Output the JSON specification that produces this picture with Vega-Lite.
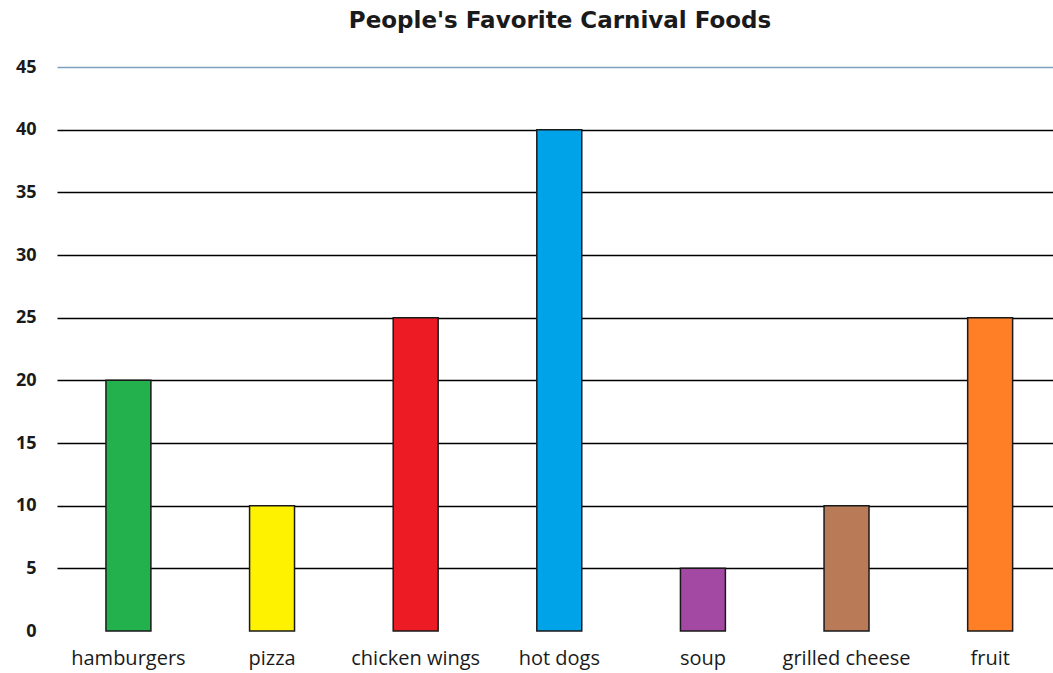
{
  "$schema": "https://vega.github.io/schema/vega-lite/v6.json",
  "autosize": {"type": "none"},
  "width": 996,
  "height": 564,
  "padding": {"left": 57, "top": 67, "right": 0, "bottom": 42},
  "background": "white",
  "title": {
    "text": "People's Favorite Carnival Foods",
    "font": "DejaVu Sans",
    "fontSize": 23,
    "fontWeight": "bold",
    "color": "#1a1a1a",
    "baseline": "alphabetic",
    "offset": 7,
    "dx": 5,
    "anchor": "middle"
  },
  "config": {"view": {"stroke": null}},
  "data": {
    "values": [
      {"food": "hamburgers", "count": 20, "color": "#22B14C"},
      {"food": "pizza", "count": 10, "color": "#FFF200"},
      {"food": "chicken wings", "count": 25, "color": "#ED1C24"},
      {"food": "hot dogs", "count": 40, "color": "#00A2E8"},
      {"food": "soup", "count": 5, "color": "#A349A4"},
      {"food": "grilled cheese", "count": 10, "color": "#B97A57"},
      {"food": "fruit", "count": 25, "color": "#FF7F27"}
    ]
  },
  "mark": {"type": "bar", "stroke": "#1a1a1a", "strokeWidth": 1.5},
  "encoding": {
    "x": {
      "field": "food",
      "type": "nominal",
      "sort": null,
      "scale": {"paddingInner": 0.687, "paddingOuter": 0.311, "align": 0.548},
      "axis": {
        "title": null,
        "labelAngle": 0,
        "domain": false,
        "ticks": false,
        "labelFont": "Open Sans",
        "labelFontSize": 20,
        "labelColor": "#1a1a1a",
        "labelBaseline": "alphabetic",
        "labelPadding": 33
      }
    },
    "y": {
      "field": "count",
      "type": "quantitative",
      "scale": {"domain": [0, 45], "nice": false},
      "axis": {
        "title": null,
        "values": [0, 5, 10, 15, 20, 25, 30, 35, 40, 45],
        "domain": false,
        "ticks": false,
        "labelFont": "Open Sans",
        "labelFontSize": 18,
        "labelFontWeight": "bold",
        "labelColor": "#1a1a1a",
        "labelPadding": 21,
        "grid": true,
        "gridColor": {"condition": {"test": "datum.value == 45", "value": "#7F9FBF"}, "value": "black"},
        "gridOpacity": {"condition": {"test": "datum.value == 0", "value": 0}, "value": 1},
        "gridWidth": 1.5
      }
    },
    "color": {"field": "color", "type": "nominal", "scale": null}
  }
}
